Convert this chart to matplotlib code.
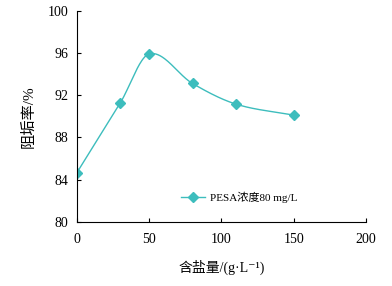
import matplotlib
matplotlib.use("Agg")
import matplotlib.pyplot as plt
import numpy as np

# 数据：含盐量 vs 阻垢率
salt = [0, 30, 50, 80, 110, 150]
inhibition = [84.65, 91.25, 95.9, 93.1, 91.15, 90.1]
series_label = "PESA浓度80 mg/L"
x_ticks = [0, 50, 100, 150, 200]
y_ticks = [80, 84, 88, 92, 96, 100]

COLOR = "#3dbdbd"
FONT = ["Liberation Serif", "Noto Sans CJK SC", "DejaVu Sans"]
plt.rcParams["font.family"] = FONT


def smooth(xs, ys, n=40):
    # cubic Hermite through the points (central-difference slopes), drawing only
    x = np.asarray(xs, float)
    y = np.asarray(ys, float)
    m = np.empty_like(y)
    m[1:-1] = (y[2:] - y[:-2]) / (x[2:] - x[:-2])
    m[0] = (y[1] - y[0]) / (x[1] - x[0])
    m[-1] = (y[-1] - y[-2]) / (x[-1] - x[-2])
    ox, oy = [], []
    t = np.linspace(0, 1, n)
    for i in range(len(x) - 1):
        h = x[i + 1] - x[i]
        h00 = 2 * t ** 3 - 3 * t ** 2 + 1
        h10 = t ** 3 - 2 * t ** 2 + t
        h01 = -2 * t ** 3 + 3 * t ** 2
        h11 = t ** 3 - t ** 2
        ox.extend(x[i] + h * t)
        oy.extend(h00 * y[i] + h10 * h * m[i] + h01 * y[i + 1] + h11 * h * m[i + 1])
    return ox, oy


fig = plt.figure(figsize=(3.92, 2.86), dpi=100)
ax = fig.add_axes([0.196, 0.224, 0.738, 0.739])

sx, sy = smooth(salt, inhibition)
ax.plot(sx, sy, color=COLOR, lw=1.0)
ax.plot(salt, inhibition, ls="none", marker="D", ms=5, color=COLOR)
ax.plot([], [], color=COLOR, lw=1.0, marker="D", ms=5, label=series_label)

ax.set_xlim(0, 200)
ax.set_ylim(80, 100)
ax.set_xticks(x_ticks)
ax.set_yticks(y_ticks)
ax.tick_params(direction="in", length=3, width=0.8, labelsize=10, pad=8)
ax.tick_params(axis="y", pad=6)
for s in ("top", "right"):
    ax.spines[s].set_visible(False)
for s in ("left", "bottom"):
    ax.spines[s].set_linewidth(0.8)

ax.set_ylabel("阻垢率/%", fontsize=11, labelpad=9)
ax.set_xlabel("含盐量/(g·L⁻¹)", fontsize=10, labelpad=10)

ax.legend(loc="center", bbox_to_anchor=(0.56, 0.115), frameon=False,
          fontsize=8, handlelength=2.2, handletextpad=0.4)

fig.savefig("out.png", dpi=100)
